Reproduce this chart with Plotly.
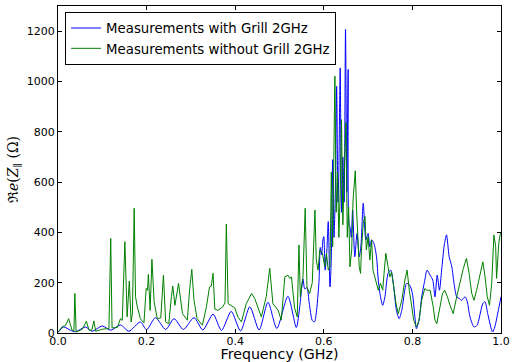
import plotly.graph_objects as go

# ---- data ----
freq_grill = [0.000, 0.013, 0.028, 0.040, 0.062, 0.077, 0.100, 0.119, 0.141, 0.160,
              0.186, 0.200, 0.220, 0.243, 0.262, 0.283, 0.307, 0.327, 0.350, 0.369,
              0.391, 0.412, 0.433, 0.454, 0.474, 0.494, 0.519, 0.538, 0.546, 0.553,
              0.557, 0.562, 0.567, 0.574, 0.579, 0.583, 0.589, 0.592, 0.595, 0.598,
              0.600, 0.603, 0.607, 0.610, 0.614, 0.617, 0.620, 0.623, 0.626, 0.629,
              0.632, 0.634, 0.637, 0.640, 0.643, 0.646, 0.649, 0.652, 0.655, 0.657,
              0.659, 0.662, 0.665, 0.670, 0.675, 0.680, 0.684, 0.689, 0.695, 0.700,
              0.704, 0.708, 0.713, 0.719, 0.723, 0.728, 0.733, 0.738, 0.745, 0.751,
              0.757, 0.764, 0.770, 0.776, 0.787, 0.794, 0.800, 0.806, 0.809, 0.815,
              0.821, 0.828, 0.833, 0.840, 0.846, 0.851, 0.856, 0.861, 0.866, 0.872,
              0.877, 0.883, 0.889, 0.894, 0.900, 0.906, 0.911, 0.919, 0.924, 0.930,
              0.939, 0.946, 0.959, 0.964, 0.970, 0.981, 0.986, 0.994, 1.000]
z_grill = [2, 24, 11, 5, 24, 7, 28, 11, 32, 7,
           44, 13, 61, 14, 57, 14, 61, 12, 75, 10,
           86, 8, 104, 12, 122, 18, 146, 22, 110, 215,
           175, 180, 120, 50, 44, 80, 200, 340, 310, 370,
           383, 250, 330, 443, 183, 300, 689, 380, 560, 981,
           520, 650, 1054, 480, 700, 520, 1207, 560, 1048, 430,
           423, 380, 489, 303, 396, 303, 350, 516, 370, 396,
           343, 370, 357, 303, 210, 144, 110, 144, 237, 250,
           197, 90, 57, 90, 197, 190, 157, 57, 17, 51,
           144, 210, 250, 230, 210, 144, 230, 170, 250, 350,
           390, 303, 263, 197, 144, 137, 130, 144, 124, 64,
           24, 31, 117, 124, 77, 4, 24, 90, 144]

freq_nogrill = [0.000, 0.009, 0.017, 0.024, 0.032, 0.036, 0.038, 0.041, 0.055, 0.064,
                0.070, 0.076, 0.081, 0.085, 0.100, 0.115, 0.119, 0.122, 0.134, 0.141,
                0.145, 0.151, 0.156, 0.161, 0.165, 0.168, 0.172, 0.175, 0.179, 0.186,
                0.194, 0.199, 0.202, 0.204, 0.208, 0.212, 0.217, 0.224, 0.232, 0.238,
                0.243, 0.250, 0.256, 0.259, 0.264, 0.269, 0.272, 0.281, 0.292, 0.297,
                0.302, 0.307, 0.314, 0.326, 0.335, 0.342, 0.346, 0.350, 0.354, 0.361,
                0.372, 0.377, 0.380, 0.384, 0.391, 0.399, 0.406, 0.414, 0.425, 0.437,
                0.444, 0.452, 0.459, 0.470, 0.478, 0.485, 0.497, 0.504, 0.512, 0.519,
                0.523, 0.527, 0.534, 0.540, 0.544, 0.547, 0.553, 0.558, 0.562, 0.568,
                0.574, 0.580, 0.583, 0.587, 0.591, 0.597, 0.602, 0.606, 0.610, 0.614,
                0.617, 0.620, 0.623, 0.625, 0.628, 0.631, 0.634, 0.637, 0.640, 0.643,
                0.646, 0.650, 0.653, 0.656, 0.659, 0.663, 0.666, 0.671, 0.674, 0.678,
                0.680, 0.683, 0.685, 0.689, 0.693, 0.696, 0.700, 0.704, 0.708, 0.711,
                0.717, 0.723, 0.728, 0.733, 0.736, 0.740, 0.745, 0.749, 0.753, 0.757,
                0.763, 0.768, 0.776, 0.783, 0.788, 0.793, 0.798, 0.803, 0.809, 0.815,
                0.821, 0.828, 0.833, 0.840, 0.847, 0.851, 0.855, 0.861, 0.868, 0.873,
                0.879, 0.885, 0.892, 0.900, 0.907, 0.915, 0.922, 0.928, 0.934, 0.939,
                0.945, 0.953, 0.959, 0.964, 0.969, 0.974, 0.979, 0.984, 0.988, 0.990,
                0.995, 0.998, 1.000]
z_nogrill = [4, 24, 30, 57, 10, 8, 157, 4, 15, 47,
             12, 10, 48, 7, 15, 18, 376, 20, 22, 57,
             50, 363, 64, 207, 44, 77, 496, 144, 104, 57,
             40, 177, 170, 233, 90, 293, 124, 57, 60, 230,
             44, 37, 144, 187, 110, 170, 197, 77, 51, 170,
             253, 130, 57, 31, 104, 183, 186, 237, 95, 90,
             104, 120, 433, 117, 110, 100, 64, 44, 117, 157,
             137, 100, 64, 144, 257, 117, 90, 51, 223, 230,
             217, 223, 100, 64, 350, 144, 223, 496, 183, 157,
             200, 489, 290, 250, 330, 317, 263, 317, 250, 263,
             640, 343, 650, 1021, 480, 640, 380, 560, 848, 430,
             620, 838, 380, 500, 263, 330, 529, 645, 489, 370,
             263, 237, 330, 436, 463, 330, 383, 290, 370, 250,
             210, 170, 197, 170, 237, 317, 263, 223, 243, 183,
             117, 77, 130, 210, 250, 170, 104, 51, 24, 51,
             130, 177, 170, 170, 104, 51, 37, 90, 157, 170,
             144, 110, 77, 144, 197, 257, 297, 237, 157, 130,
             170, 237, 283, 223, 144, 110, 197, 390, 343, 217,
             357, 390, 400]

x_ticks = [0.0, 0.2, 0.4, 0.6, 0.8, 1.0]
y_ticks = [0, 200, 400, 600, 800, 1000, 1200]

FONT = "DejaVu Sans"

fig = go.Figure()
fig.add_trace(go.Scatter(x=freq_grill, y=z_grill, mode="lines",
                         name="Measurements with Grill 2GHz",
                         line=dict(color="#0000ff", width=1, shape="spline", smoothing=0.7)))
fig.add_trace(go.Scatter(x=freq_nogrill, y=z_nogrill, mode="lines",
                         name="Measurements without Grill 2GHz",
                         line=dict(color="#008000", width=1)))

axis_common = dict(showline=True, linecolor="black", linewidth=1, mirror="ticks",
                   ticks="inside", ticklen=4, tickcolor="black", showgrid=False,
                   zeroline=False, automargin=False,
                   tickfont=dict(family=FONT, size=11, color="black"))

fig.update_xaxes(range=[0, 1.0], tickvals=x_ticks,
                 ticktext=[f"{v:.1f}" for v in x_ticks],
                 ticklabelstandoff=-2,
                 title=dict(text="Frequency (GHz)", font=dict(family=FONT, size=14.2, color="black"),
                            standoff=0),
                 **axis_common)
fig.update_yaxes(range=[0, 1300], tickvals=y_ticks,
                 ticktext=[str(v) for v in y_ticks],
                 title=dict(text="ℜ<i>e</i>(<i>Z</i><sub>∥</sub> (Ω)",
                            font=dict(family="DejaVu Serif", size=14, color="black"),
                            standoff=4),
                 **axis_common)

fig.update_layout(
    width=512, height=362,
    margin=dict(l=58, r=11, t=6, b=29),
    paper_bgcolor="white", plot_bgcolor="white",
    showlegend=True,
    legend=dict(x=0.016, y=0.982, xanchor="left", yanchor="top",
                bgcolor="white", bordercolor="black", borderwidth=1,
                font=dict(family=FONT, size=13.3, color="black"),
                traceorder="normal", tracegroupgap=0),
)

fig.write_html("out.html")
